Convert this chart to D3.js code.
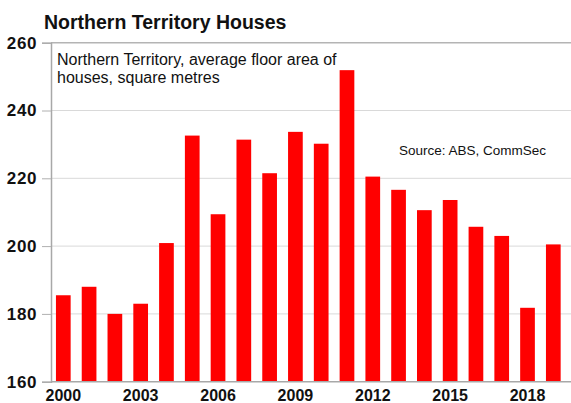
<!DOCTYPE html>
<html><head><meta charset="utf-8">
<script src="https://cdn.jsdelivr.net/npm/d3@7"></script>
<style>
html,body{margin:0;padding:0;background:#fff;}
svg{display:block;font-family:"Liberation Sans",Arial,sans-serif;}
</style></head>
<body>
<svg id="chart" width="571" height="403"></svg>
<script>
const years = [2000,2001,2002,2003,2004,2005,2006,2007,2008,2009,2010,2011,2012,2013,2014,2015,2016,2017,2018,2019];
const floorArea = [185.5,188,180,183,200.9,232.6,209.4,231.4,221.5,233.7,230.2,251.9,220.5,216.6,210.6,213.6,205.7,203,181.8,200.5];
const yTicks = [160,180,200,220,240,260];
const xTickYears = [2000,2003,2006,2009,2012,2015,2018];
const titleText = "Northern Territory Houses";
const subtitleLines = ["Northern Territory, average floor area of","houses, square metres"];
const sourceText = "Source: ABS, CommSec";

const svg = d3.select("#chart");
const mLeft = 51, mRight = 571, mTop = 42.7, mBottom = 381.7;

const x = d3.scaleBand().domain(years).range([50.4, 566.2]).paddingInner(0.43).paddingOuter(0.215);
const y = d3.scaleLinear().domain([160,260]).range([mBottom, mTop]);

// gridlines
svg.append("g").selectAll("line").data(yTicks.filter(d=>d!==160)).join("line")
  .attr("x1", mLeft).attr("x2", mRight)
  .attr("y1", d=>y(d)).attr("y2", d=>y(d))
  .attr("stroke", d=> d===260 ? "#b4b4b4" : "#d9d9d9").attr("stroke-width", d=> d===260?1.5:1);

// bars
svg.append("g").selectAll("rect").data(years).join("rect")
  .attr("x", d=>x(d)).attr("width", x.bandwidth())
  .attr("y", (d,i)=>y(floorArea[i]))
  .attr("height", (d,i)=>y(160)-y(floorArea[i]))
  .attr("fill", "#ff0000");

// y axis
const yAxis = d3.axisLeft(y).tickValues(yTicks).tickSize(9).tickPadding(5).tickFormat(d3.format("d"));
const gy = svg.append("g").attr("transform", `translate(${mLeft},0)`).call(yAxis);
gy.select(".domain").attr("stroke", "#a8a8a8").attr("stroke-width", 1.5);
gy.selectAll(".tick line").attr("stroke", "#b0b0b0");
gy.selectAll(".tick text").attr("fill","#111").attr("font-size","17px").attr("font-weight","bold")
  .attr("letter-spacing","0.6px").attr("font-family","'Liberation Sans',Arial,sans-serif");

// x axis
const xAxis = d3.axisBottom(x).tickValues(xTickYears).tickSize(0).tickPadding(8).tickFormat(d3.format("d"));
const gx = svg.append("g").attr("transform", `translate(0,${mBottom})`).call(xAxis);
gx.select(".domain").remove();
svg.append("line").attr("x1", mLeft).attr("x2", mRight).attr("y1", mBottom).attr("y2", mBottom)
  .attr("stroke", "#a8a8a8").attr("stroke-width", 1.5);
gx.selectAll(".tick text").attr("fill","#111").attr("font-size","16px").attr("font-weight","bold")
  .attr("font-family","'Liberation Sans',Arial,sans-serif");

// title
svg.append("text").attr("x", 44).attr("y", 29).text(titleText)
  .attr("font-size","19.5px").attr("font-weight","bold").attr("fill","#111");

// subtitle
svg.append("text").attr("x", 57).attr("y", 65)
  .attr("font-size","16px").attr("fill","#111")
  .selectAll("tspan").data(subtitleLines).join("tspan")
  .attr("x", 57).attr("dy", (d,i)=> i===0?0:18).text(d=>d);

// source
svg.append("text").attr("x", 399).attr("y", 155).text(sourceText)
  .attr("font-size","13.5px").attr("fill","#111");
</script>
</body></html>
